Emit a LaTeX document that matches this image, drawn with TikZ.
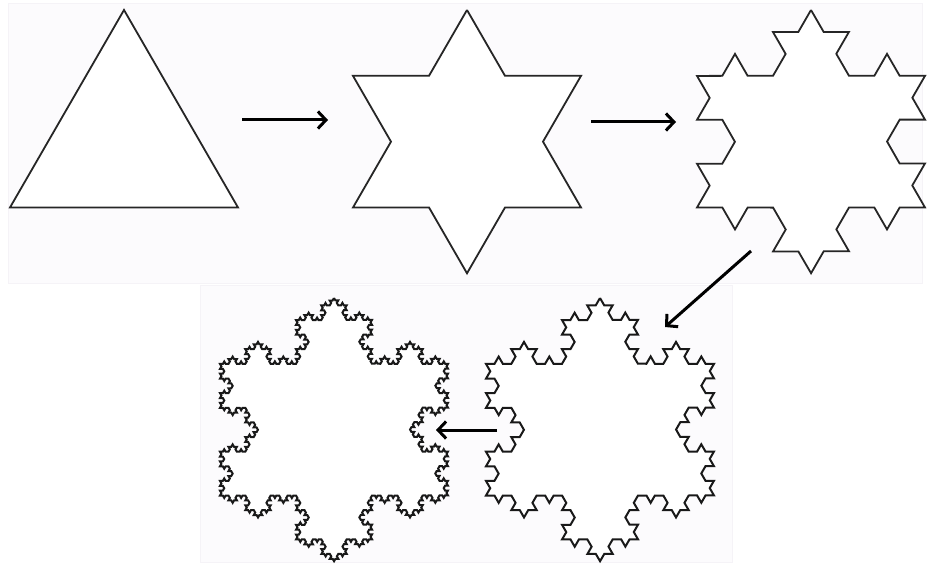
\documentclass[tikz,border=0pt]{standalone}
\usepackage{xcolor}
\usepackage{tikz}
\usetikzlibrary{arrows.meta,decorations.fractals}
\definecolor{panelbg}{RGB}{252,251,253}
\definecolor{paneledge}{RGB}{245,243,247}
\begin{document}
\begin{tikzpicture}[
  x=1pt, y=-1pt,
  panel/.style={fill=panelbg, draw=paneledge, line width=1pt},
  flake/.style={draw=black!85, fill=white, line width=1.8pt, line join=miter, decoration=Koch snowflake},
  fineflake/.style={flake, draw=black!90, line width=2pt},
  stepto/.style={-{Straight Barb[length=8pt,width=17pt]}, line width=3pt}
]
\useasboundingbox[fill=white] (0,0) rectangle (932,567);
\draw[panel] (8,4) rectangle (922,283);
\draw[panel] (200,285) rectangle (732,562);
\coordinate (k0) at (124,10);
\coordinate (k1) at (467,10);
\coordinate (k2) at (811,10);
\coordinate (k3) at (600,298);
\coordinate (k4) at (334,298);
\draw[flake] (k0) -- ++(114,197.5) -- ++(-228,0) -- cycle;
\draw[flake] decorate{(k1) -- ++(114,197.5) -- ++(-228,0) -- cycle};
\draw[flake] decorate{decorate{(k2) -- ++(114,197.5) -- ++(-228,0) -- cycle}};
\draw[fineflake] decorate{decorate{decorate{(k3) -- ++(114,197.5) -- ++(-228,0) -- cycle}}};
\draw[fineflake] decorate{decorate{decorate{decorate{(k4) -- ++(114,197.5) -- ++(-228,0) -- cycle}}}};
\coordinate (out0) at (242,120);
\coordinate (in1) at (328,120);
\coordinate (out1) at (591,122);
\coordinate (in2) at (676,122);
\coordinate (out2) at (751,251);
\coordinate (in3) at (665,327);
\coordinate (out3) at (497,430);
\coordinate (in4) at (436,430);
\draw[stepto] (out0) -- (in1);
\draw[stepto] (out1) -- (in2);
\draw[stepto] (out2) -- (in3);
\draw[stepto] (out3) -- (in4);
\end{tikzpicture}
\end{document}
